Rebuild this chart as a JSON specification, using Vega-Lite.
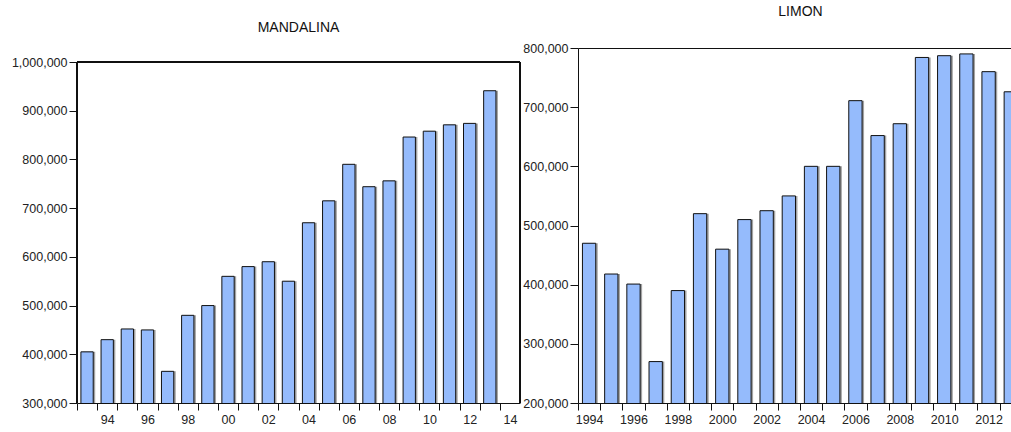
{
  "$schema": "https://vega.github.io/schema/vega-lite/v6.json",
  "padding": {"left": 11, "top": 4, "right": 0, "bottom": 0},
  "spacing": 1,
  "config": {
    "view": {"stroke": null},
    "title": {"font": "Liberation Sans", "fontSize": 14, "fontWeight": "normal", "color": "#111", "anchor": "middle", "frame": "group", "baseline": "bottom", "offset": 21.5},
    "axis": {"domainColor": "#111", "tickColor": "#111", "labelColor": "#222", "title": null, "grid": false, "labelFont": "Liberation Sans", "labelFontSize": 12.5},
    "rule": {"color": "#111", "strokeWidth": 1}
  },
  "datasets": {
    "mandalina": [
      {"year": 1993, "value": 405000}, {"year": 1994, "value": 430000}, {"year": 1995, "value": 452000},
      {"year": 1996, "value": 450000}, {"year": 1997, "value": 365000}, {"year": 1998, "value": 480000},
      {"year": 1999, "value": 500000}, {"year": 2000, "value": 560000}, {"year": 2001, "value": 580000},
      {"year": 2002, "value": 590000}, {"year": 2003, "value": 550000}, {"year": 2004, "value": 670000},
      {"year": 2005, "value": 715000}, {"year": 2006, "value": 790000}, {"year": 2007, "value": 744000},
      {"year": 2008, "value": 756000}, {"year": 2009, "value": 846000}, {"year": 2010, "value": 858000},
      {"year": 2011, "value": 871000}, {"year": 2012, "value": 874000}, {"year": 2013, "value": 941000}
    ],
    "limon": [
      {"year": 1994, "value": 470000}, {"year": 1995, "value": 418000}, {"year": 1996, "value": 401000},
      {"year": 1997, "value": 270000}, {"year": 1998, "value": 390000}, {"year": 1999, "value": 520000},
      {"year": 2000, "value": 460000}, {"year": 2001, "value": 510000}, {"year": 2002, "value": 525000},
      {"year": 2003, "value": 550000}, {"year": 2004, "value": 600000}, {"year": 2005, "value": 600000},
      {"year": 2006, "value": 711000}, {"year": 2007, "value": 652000}, {"year": 2008, "value": 672000},
      {"year": 2009, "value": 784000}, {"year": 2010, "value": 787000}, {"year": 2011, "value": 790000},
      {"year": 2012, "value": 760000}, {"year": 2013, "value": 726000}
    ]
  },
  "hconcat": [
    {
      "width": 443,
      "height": 355,
      "title": {"text": "MANDALINA", "dy": 8.5},
      "data": {"name": "mandalina"},
      "encoding": {
        "x": {
          "field": "year", "type": "quantitative",
          "scale": {"domain": [1992.5, 2014.5], "nice": false, "zero": false, "padding": 0},
          "axis": {"values": [1992.5, 1993.5, 1994.5, 1995.5, 1996.5, 1997.5, 1998.5, 1999.5, 2000.5, 2001.5, 2002.5, 2003.5, 2004.5, 2005.5, 2006.5, 2007.5, 2008.5, 2009.5, 2010.5, 2011.5, 2012.5, 2013.5], "labelOffset": 10.07, "labelOverlap": false, "labelFlush": false, "labelBound": false, "tickSize": 7, "labelPadding": 3, "labelExpr": "(datum.value + 0.5) % 2 == 0 ? slice(toString(datum.value + 0.5), 2) : ''"}
        },
        "y": {
          "field": "value", "type": "quantitative",
          "scale": {"domain": [300000, 1028739], "nice": false, "zero": false},
          "axis": {"values": [300000, 400000, 500000, 600000, 700000, 800000, 900000, 1000000], "format": ",d", "tickSize": 8, "labelPadding": 2, "domain": false}
        }
      },
      "layer": [
        {"mark": {"type": "bar", "fill": "#a3a3a3", "xOffset": 2, "width": 12.3, "clip": true}},
        {"mark": {"type": "bar", "fill": "#95bbfc", "stroke": "#111", "strokeWidth": 1, "width": 12.3, "clip": true}},
        {"mark": "rule", "encoding": {"x": {"datum": 1992.5}, "y": {"datum": 300000}, "y2": {"datum": 1000000}}},
        {"mark": "rule", "encoding": {"x": {"datum": 2014.5}, "y": {"datum": 300000}, "y2": {"datum": 1000000}}},
        {"mark": "rule", "encoding": {"x": {"datum": 1992.5}, "x2": {"datum": 2014.5}, "y": {"datum": 1000000}}}
      ]
    },
    {
      "width": 435,
      "height": 355,
      "title": {"text": "LIMON", "dx": 5, "offset": 23.5},
      "data": {"name": "limon"},
      "encoding": {
        "x": {
          "field": "year", "type": "quantitative",
          "scale": {"domain": [1993.5, 2013.1], "nice": false, "zero": false, "padding": 0},
          "axis": {"values": [1993.5, 1994.5, 1995.5, 1996.5, 1997.5, 1998.5, 1999.5, 2000.5, 2001.5, 2002.5, 2003.5, 2004.5, 2005.5, 2006.5, 2007.5, 2008.5, 2009.5, 2010.5, 2011.5, 2012.5], "labelOffset": 11.1, "labelOverlap": false, "labelFlush": false, "labelBound": false, "tickSize": 7, "labelPadding": 3, "labelExpr": "(datum.value + 0.5) % 2 == 0 ? toString(datum.value + 0.5) : ''"}
        },
        "y": {
          "field": "value", "type": "quantitative",
          "scale": {"domain": [200000, 800000], "nice": false, "zero": false},
          "axis": {"values": [200000, 300000, 400000, 500000, 600000, 700000, 800000], "format": ",d", "tickSize": 8, "labelPadding": 2, "grid": true, "gridColor": "#111", "gridOpacity": {"condition": {"test": "datum.value === 800000", "value": 1}, "value": 0}}
        }
      },
      "layer": [
        {"mark": {"type": "bar", "fill": "#a3a3a3", "xOffset": 2, "width": 13.3, "clip": true}},
        {"mark": {"type": "bar", "fill": "#95bbfc", "stroke": "#111", "strokeWidth": 1, "width": 13.3, "clip": true}}
      ]
    }
  ]
}
